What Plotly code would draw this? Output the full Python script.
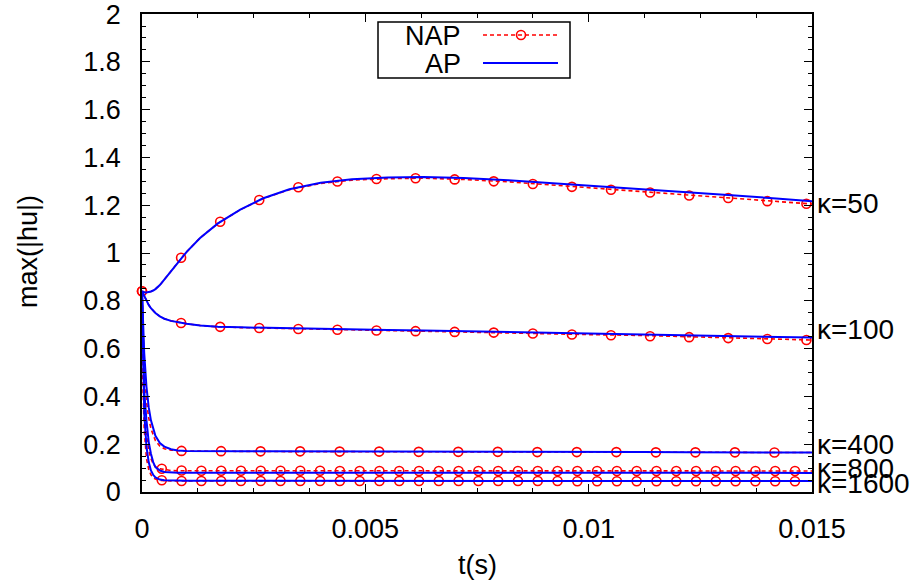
import plotly.graph_objects as go

# ---------------- data ----------------
T = [0, 0.00002, 0.00005, 0.0001, 0.00015, 0.0002, 0.00025, 0.0003, 0.0004, 0.0005,
     0.00065, 0.0008, 0.001, 0.0013, 0.0017, 0.0022, 0.0027, 0.0033, 0.004, 0.0047,
     0.0055, 0.0063, 0.0072, 0.0082, 0.0092, 0.0102, 0.0112, 0.0122, 0.0132, 0.0142, 0.015]

AP_50 = [0.840, 0.838, 0.836, 0.835, 0.836, 0.839, 0.843, 0.849, 0.866, 0.889,
         0.926, 0.962, 1.005, 1.063, 1.124, 1.182, 1.228, 1.267, 1.294, 1.309,
         1.316, 1.318, 1.314, 1.305, 1.293, 1.281, 1.268, 1.255, 1.242, 1.228, 1.217]
NAP_50 = [0.840, 0.838, 0.836, 0.835, 0.836, 0.839, 0.843, 0.849, 0.866, 0.889,
          0.926, 0.962, 1.005, 1.063, 1.124, 1.181, 1.227, 1.265, 1.291, 1.305,
          1.311, 1.313, 1.308, 1.298, 1.284, 1.270, 1.257, 1.244, 1.230, 1.216, 1.205]

AP_100 = [0.840, 0.832, 0.820, 0.800, 0.783, 0.769, 0.758, 0.749, 0.735, 0.725,
          0.716, 0.710, 0.704, 0.697, 0.692, 0.689, 0.687, 0.685, 0.682, 0.680,
          0.678, 0.676, 0.673, 0.670, 0.667, 0.664, 0.661, 0.657, 0.654, 0.650, 0.646]
NAP_100 = [0.840, 0.832, 0.820, 0.800, 0.783, 0.769, 0.758, 0.749, 0.735, 0.725,
           0.716, 0.710, 0.704, 0.697, 0.691, 0.688, 0.686, 0.683, 0.680, 0.678,
           0.676, 0.673, 0.670, 0.666, 0.662, 0.658, 0.655, 0.650, 0.646, 0.641, 0.636]

AP_400 = [0.840, 0.720, 0.580, 0.440, 0.355, 0.300, 0.262, 0.235, 0.205, 0.190,
          0.179, 0.174, 0.172, 0.171, 0.171, 0.170, 0.170, 0.170, 0.169, 0.169,
          0.169, 0.168, 0.168, 0.168, 0.167, 0.167, 0.167, 0.166, 0.166, 0.166, 0.165]
NAP_400 = [0.840, 0.680, 0.520, 0.380, 0.310, 0.265, 0.236, 0.215, 0.192, 0.181,
           0.175, 0.172, 0.171, 0.171, 0.170, 0.170, 0.170, 0.169, 0.169, 0.169,
           0.168, 0.168, 0.168, 0.167, 0.167, 0.167, 0.166, 0.166, 0.166, 0.165, 0.165]

AP_800 = [0.840, 0.620, 0.420, 0.300, 0.210, 0.160, 0.125, 0.104, 0.090, 0.084,
          0.082, 0.081, 0.081, 0.081, 0.081, 0.081, 0.081, 0.081, 0.081, 0.081,
          0.080, 0.080, 0.080, 0.080, 0.080, 0.080, 0.080, 0.080, 0.080, 0.080, 0.080]
NAP_800 = [0.840, 0.550, 0.360, 0.240, 0.175, 0.140, 0.118, 0.106, 0.097, 0.093,
           0.090, 0.089, 0.089, 0.089, 0.089, 0.088, 0.088, 0.088, 0.088, 0.088,
           0.088, 0.088, 0.088, 0.088, 0.088, 0.088, 0.088, 0.088, 0.088, 0.088, 0.088]

AP_1600 = [0.840, 0.550, 0.330, 0.190, 0.125, 0.090, 0.072, 0.061, 0.052, 0.049,
           0.048, 0.047, 0.047, 0.047, 0.047, 0.047, 0.047, 0.047, 0.047, 0.047,
           0.046, 0.046, 0.046, 0.046, 0.046, 0.046, 0.046, 0.046, 0.046, 0.046, 0.046]
NAP_1600 = [0.840, 0.450, 0.260, 0.140, 0.095, 0.072, 0.060, 0.054, 0.049, 0.047,
            0.046, 0.046, 0.046, 0.046, 0.046, 0.046, 0.046, 0.046, 0.046, 0.046,
            0.046, 0.045, 0.045, 0.045, 0.045, 0.045, 0.045, 0.045, 0.045, 0.045, 0.045]

# NAP marker samples
TM_A = [0, 0.000875, 0.00175, 0.002625, 0.0035, 0.004375, 0.00525, 0.006125, 0.007,
        0.007875, 0.00875, 0.009625, 0.0105, 0.011375, 0.01225, 0.013125, 0.014, 0.014875]
M_50 = [0.840, 0.980, 1.131, 1.222, 1.275, 1.299, 1.310, 1.313, 1.308,
        1.300, 1.289, 1.277, 1.265, 1.253, 1.241, 1.230, 1.217, 1.206]
M_100 = [0.840, 0.707, 0.691, 0.686, 0.682, 0.679, 0.676, 0.673, 0.670,
         0.667, 0.663, 0.659, 0.656, 0.652, 0.648, 0.644, 0.640, 0.636]

TM_400 = [0.000885, 0.00177, 0.002655, 0.00354, 0.004425, 0.00531, 0.006195, 0.00708,
          0.007965, 0.00885, 0.009735, 0.01062, 0.011505, 0.01239, 0.013275, 0.01416]
M_400 = [0.172, 0.171, 0.170, 0.170, 0.169, 0.169, 0.168, 0.168,
         0.168, 0.167, 0.167, 0.167, 0.166, 0.166, 0.166, 0.165]

TM_B = [0.000443, 0.000886, 0.001329, 0.001772, 0.002215, 0.002658, 0.003101, 0.003544,
        0.003987, 0.00443, 0.004873, 0.005316, 0.005759, 0.006202, 0.006645, 0.007088,
        0.007531, 0.007974, 0.008417, 0.00886, 0.009303, 0.009746, 0.010189, 0.010632,
        0.011075, 0.011518, 0.011961, 0.012404, 0.012847, 0.01329, 0.013733, 0.014176, 0.014619]
M_800 = [0.097, 0.090, 0.089, 0.089, 0.089, 0.089, 0.089, 0.089,
         0.089, 0.088, 0.088, 0.088, 0.088, 0.088, 0.088, 0.088,
         0.088, 0.088, 0.088, 0.088, 0.088, 0.088, 0.088, 0.088,
         0.088, 0.088, 0.088, 0.088, 0.088, 0.088, 0.088, 0.088, 0.088]
M_1600 = [0.049, 0.046, 0.046, 0.046, 0.046, 0.046, 0.046, 0.046,
          0.046, 0.046, 0.046, 0.046, 0.046, 0.046, 0.046, 0.046,
          0.046, 0.046, 0.046, 0.046, 0.046, 0.045, 0.045, 0.045,
          0.045, 0.045, 0.045, 0.045, 0.045, 0.045, 0.045, 0.045, 0.045]

KAPPA_LABELS = ["κ=50", "κ=100", "κ=400", "κ=800", "κ=1600"]
LABEL_Y = [1.209, 0.678, 0.197, 0.100, 0.036]

X_TICKS = [0, 0.005, 0.01, 0.015]
X_TICK_TEXT = ["0", "0.005", "0.01", "0.015"]
Y_TICKS = [0, 0.2, 0.4, 0.6, 0.8, 1.0, 1.2, 1.4, 1.6, 1.8, 2.0]
Y_TICK_TEXT = ["0", "0.2", "0.4", "0.6", "0.8", "1", "1.2", "1.4", "1.6", "1.8", "2"]

# ---------------- figure ----------------
RED = "#ff0000"
BLUE = "#0000ff"
FONT = "Liberation Sans, Arial, sans-serif"
FS = 27

fig = go.Figure()

nap_lines = [NAP_50, NAP_100, NAP_400, NAP_800, NAP_1600]
ap_lines = [AP_50, AP_100, AP_400, AP_800, AP_1600]
markers = [(TM_A, M_50), (TM_A, M_100), (TM_400, M_400), (TM_B, M_800), (TM_B, M_1600)]

for ys in nap_lines:
    fig.add_trace(go.Scatter(x=T, y=ys, mode="lines",
                             line=dict(color=RED, width=1.6, dash="4px,3px"),
                             showlegend=False, hoverinfo="skip"))
for tx, ty in markers:
    fig.add_trace(go.Scatter(x=tx, y=ty, mode="markers",
                             marker=dict(symbol="circle-open", size=9, color=RED,
                                         line=dict(width=1.6, color=RED)),
                             showlegend=False, hoverinfo="skip", cliponaxis=False))
for ys in ap_lines:
    fig.add_trace(go.Scatter(x=T, y=ys, mode="lines",
                             line=dict(color=BLUE, width=2),
                             showlegend=False, hoverinfo="skip"))

# plot area in pixels
L, R, TOP, BOT = 142, 812, 14, 492
W, H = R - L, BOT - TOP


def px(xp):
    return (xp - L) / W


def py(yp):
    return (BOT - yp) / H


annotations = []
for lab, yv in zip(KAPPA_LABELS, LABEL_Y):
    annotations.append(dict(x=px(815), xref="paper", y=yv, yref="y", text=lab,
                            showarrow=False, xanchor="left", yanchor="middle",
                            font=dict(family=FONT, size=28, color="black")))

# axis titles
annotations.append(dict(x=px(477), xref="paper", y=py(565), yref="paper", text="t(s)",
                        showarrow=False, xanchor="center", yanchor="middle",
                        font=dict(family=FONT, size=FS, color="black")))
annotations.append(dict(x=px(28), xref="paper", y=py(252), yref="paper", text="max(|hu|)",
                        showarrow=False, xanchor="center", yanchor="middle", textangle=-90,
                        font=dict(family=FONT, size=FS, color="black")))

# manual gnuplot-style legend
annotations.append(dict(x=px(463), xref="paper", y=py(36), yref="paper", text="NAP",
                        showarrow=False, xanchor="right", yanchor="middle",
                        font=dict(family=FONT, size=FS, color="black")))
annotations.append(dict(x=px(463), xref="paper", y=py(64), yref="paper", text="AP",
                        showarrow=False, xanchor="right", yanchor="middle",
                        font=dict(family=FONT, size=FS, color="black")))

shapes = [
    dict(type="rect", xref="paper", yref="paper", x0=px(378), x1=px(570), y0=py(78), y1=py(22),
         line=dict(color="black", width=1.5), fillcolor="white", layer="above"),
    dict(type="line", xref="paper", yref="paper", x0=px(483), x1=px(558), y0=py(35), y1=py(35),
         line=dict(color=RED, width=1.6, dash="4px,3px"), layer="above"),
    dict(type="circle", xref="paper", yref="paper", xsizemode="pixel", ysizemode="pixel",
         xanchor=px(521), yanchor=py(35), x0=-4.5, x1=4.5, y0=-4.5, y1=4.5,
         line=dict(color=RED, width=1.6), fillcolor="rgba(0,0,0,0)", layer="above"),
    dict(type="line", xref="paper", yref="paper", x0=px(483), x1=px(558), y0=py(63), y1=py(63),
         line=dict(color=BLUE, width=2), layer="above"),
]

fig.update_layout(
    width=915, height=586,
    margin=dict(l=L, r=915 - R, t=TOP, b=586 - BOT, autoexpand=False),
    paper_bgcolor="white", plot_bgcolor="white",
    font=dict(family=FONT, size=FS, color="black"),
    showlegend=False,
    annotations=annotations,
    shapes=shapes,
)

fig.update_xaxes(range=[0, 0.015], tickmode="array", tickvals=X_TICKS, ticktext=X_TICK_TEXT,
                 ticks="inside", ticklen=8, tickwidth=1.2, tickcolor="black",
                 showline=True, linecolor="black", linewidth=1.8, mirror="ticks",
                 showgrid=False, zeroline=False, ticklabelstandoff=12,
                 ticklabeloverflow="allow",
                 tickfont=dict(family=FONT, size=FS, color="black"),
                 minor=dict(dtick=0.00125, tick0=0, ticks="inside", ticklen=4,
                            tickwidth=1.2, tickcolor="black", showgrid=False))
fig.update_yaxes(range=[0, 2.0002], tickmode="array", tickvals=Y_TICKS, ticktext=Y_TICK_TEXT,
                 ticks="inside", ticklen=8, tickwidth=1.2, tickcolor="black",
                 showline=True, linecolor="black", linewidth=1.8, mirror="ticks",
                 showgrid=False, zeroline=False, ticklabelstandoff=14,
                 ticklabeloverflow="allow",
                 tickfont=dict(family=FONT, size=FS, color="black"),
                 minor=dict(dtick=0.05, tick0=0, ticks="inside", ticklen=4,
                            tickwidth=1.2, tickcolor="black", showgrid=False))

fig.write_html("out.html", config={"displayModeBar": False},
               post_script="document.body.style.margin='0';document.body.style.overflow='hidden';")
